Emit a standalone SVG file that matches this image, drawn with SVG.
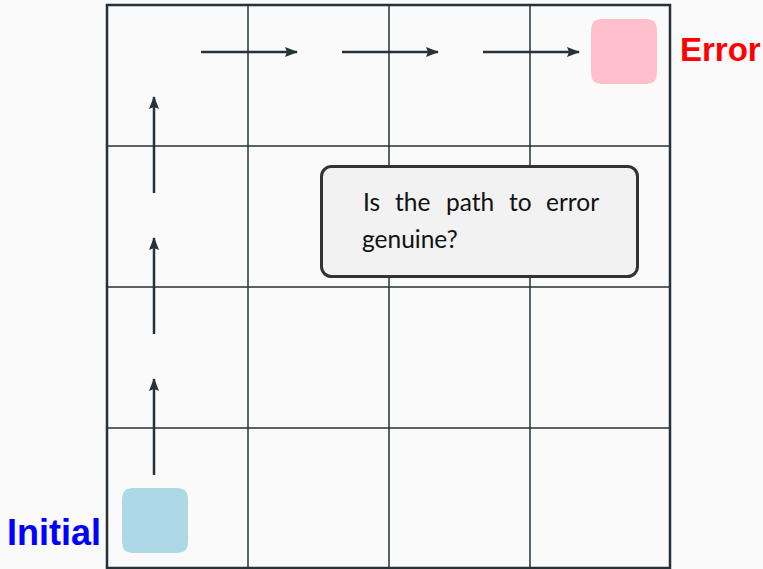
<svg xmlns="http://www.w3.org/2000/svg" width="763" height="569" viewBox="0 0 763 569">
  <style>
    .grid { stroke: #263238; stroke-width: 1.5; fill: none; }
    .frame { stroke: #263238; stroke-width: 2.5; fill: none; }
    .step { stroke: #263238; stroke-width: 2.5; fill: none; marker-end: url(#head); }
    .label { font-family: "Liberation Sans", Arial, sans-serif; font-weight: bold; }
    .note { font-family: Lato, "DejaVu Sans", sans-serif; font-size: 24.5px; fill: #111; }
  </style>
  <defs>
    <marker id="head" viewBox="0 0 13 10" refX="12" refY="5" markerWidth="13" markerHeight="10" markerUnits="userSpaceOnUse" orient="auto">
      <path d="M0,0 L13,5 L0,10 L2,5 Z" fill="#263238"/>
    </marker>
  </defs>
  <rect width="763" height="569" fill="#fafafa"/>

  <!-- 4x4 grid -->
  <g id="grid">
    <path class="grid" d="M248,5 V568 M389,5 V568 M530,5 V568 M107,146 H670 M107,287 H670 M107,428 H670"/>
    <rect class="frame" x="107" y="5" width="563" height="563"/>
  </g>

  <!-- path steps -->
  <g id="connectors">
    <line class="step" x1="154" y1="475" x2="154" y2="379"/>
    <line class="step" x1="154" y1="334" x2="154" y2="238"/>
    <line class="step" x1="154" y1="193" x2="154" y2="97"/>
    <line class="step" x1="201" y1="52" x2="297" y2="52"/>
    <line class="step" x1="342" y1="52" x2="438" y2="52"/>
    <line class="step" x1="483" y1="52" x2="579" y2="52"/>
  </g>

  <g id="initial">
    <path d="M138,488 H172 C186,488 188,490 188,504 V537 C188,551 186,553 172,553 H138 C124,553 122,551 122,537 V504 C122,490 124,488 138,488 Z" fill="#add8e6"/>
    <text class="label" x="7" y="545" font-size="36" fill="#0000ff">Initial</text>
  </g>

  <g id="error">
    <path d="M607,19 H641 C655,19 657,21 657,35 V68 C657,82 655,84 641,84 H607 C593,84 591,82 591,68 V35 C591,21 593,19 607,19 Z" fill="#ffc0cb"/>
    <text class="label" x="680" y="61" font-size="33" fill="#ff0000">Error</text>
  </g>

  <g id="question">
    <rect x="321.5" y="166.5" width="316" height="110" rx="10" fill="#f2f2f2" stroke="#333" stroke-width="3"/>
    <text class="note" y="211"><tspan x="363">Is</tspan><tspan x="395">the</tspan><tspan x="446">path</tspan><tspan x="509">to</tspan><tspan x="546">error</tspan></text>
    <text class="note" x="362" y="248">genuine?</text>
  </g>
</svg>
